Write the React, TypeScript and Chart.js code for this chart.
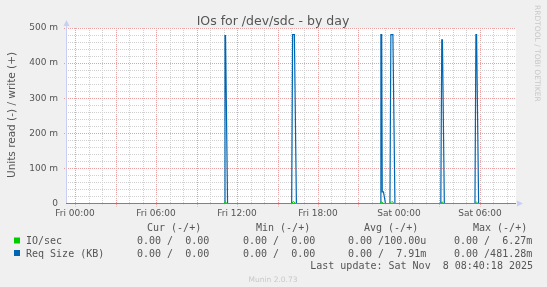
import React, { useEffect, useRef } from 'react';
import { Chart, registerables } from 'chart.js';

Chart.register(...registerables);

const chartTitle = 'IOs for /dev/sdc - by day';
const yAxisTitle = 'Units read (-) / write (+)';
const watermark = 'RRDTOOL / TOBI OETIKER';
const footer = 'Munin 2.0.73';

// hours relative to Fri 00:00
const xMin = -0.67;
const xMax = 32.67;
const xTickHours = [0, 6, 12, 18, 24, 30];
const xTickLabels = ['Fri 00:00', 'Fri 06:00', 'Fri 12:00', 'Fri 18:00', 'Sat 00:00', 'Sat 06:00'];
const yTickValues = [0, 100, 200, 300, 400, 500];
const yTickLabels = ['0', '100 m', '200 m', '300 m', '400 m', '500 m'];

// Req Size (KB), milli-units
const reqHours = [
  -0.67,
  11.04, 11.11, 11.15, 11.3,
  16.05, 16.12, 16.25, 16.4,
  22.6, 22.66, 22.72, 22.76, 22.85, 23.0,
  23.33, 23.4, 23.55, 23.7,
  27.1, 27.17, 27.22, 27.36,
  29.63, 29.7, 29.75, 29.9,
  32.67,
];
const reqValues = [
  0,
  0, 478, 478, 0,
  0, 481, 481, 0,
  0, 481, 481, 33, 33, 0,
  0, 481, 481, 0,
  0, 466, 466, 0,
  0, 481, 481, 0,
  0,
];

// IO/sec, milli-units
const ioHours = [
  -0.67,
  11.04, 11.13, 11.25,
  16.05, 16.18, 16.35,
  22.6, 22.7, 22.85,
  23.33, 23.48, 23.65,
  27.1, 27.2, 27.3,
  29.63, 29.72, 29.85,
  32.67,
];
const ioValues = [
  0,
  0, 5, 0,
  0, 6, 0,
  0, 5, 0,
  0, 6, 0,
  0, 5, 0,
  0, 5, 0,
  0,
];

const legendHeaders = ['Cur (-/+)', 'Min (-/+)', 'Avg (-/+)', 'Max (-/+)'];
const seriesNames = ['IO/sec', 'Req Size (KB)'];
const seriesColors = ['#00cc00', '#0066b3'];
const ioStats = ['0.00 /  0.00', '0.00 /  0.00', '0.00 /100.00u', '0.00 /  6.27m'];
const reqStats = ['0.00 /  0.00', '0.00 /  0.00', '0.00 /  7.91m', '0.00 /481.28m'];
const lastUpdate = 'Last update: Sat Nov  8 08:40:18 2025';

const SANS = '"DejaVu Sans", sans-serif';
const MONO = '"DejaVu Sans Mono", monospace';
const TEXT = '#555555';

const muninPlugin = {
  id: 'munin',
  beforeDraw(chart: any) {
    const { ctx, chartArea: a } = chart;
    ctx.save();
    ctx.fillStyle = '#f0f0f0';
    ctx.fillRect(0, 0, chart.width, chart.height);
    ctx.fillStyle = '#ffffff';
    ctx.fillRect(a.left, a.top, a.right - a.left, a.bottom - a.top);
    ctx.restore();
  },
  beforeDatasetsDraw(chart: any) {
    const { ctx, chartArea: a, scales } = chart;
    const xs = scales.x;
    const ys = scales.y;
    ctx.save();
    ctx.lineWidth = 1;
    ctx.setLineDash([1, 1]);
    for (let h = Math.ceil(xMin); h <= Math.floor(xMax); h++) {
      const major = h % 3 === 0;
      const px = Math.round(xs.getPixelForValue(h)) + 0.5;
      ctx.strokeStyle = major ? '#e8a0a0' : '#d0d0d0';
      ctx.beginPath();
      ctx.moveTo(px, a.top);
      ctx.lineTo(px, a.bottom + (major ? 3 : 1));
      ctx.stroke();
    }
    for (let v = 20; v <= 500; v += 20) {
      const major = v % 100 === 0;
      const py = Math.floor(ys.getPixelForValue(v)) + 0.5;
      ctx.strokeStyle = major ? '#e8a0a0' : '#d0d0d0';
      ctx.beginPath();
      ctx.moveTo(a.left - (major ? 2 : 0), py);
      ctx.lineTo(a.right, py);
      ctx.stroke();
    }
    ctx.restore();
  },
  afterDatasetsDraw(chart: any) {
    const { ctx, chartArea: a } = chart;
    ctx.save();
    ctx.lineWidth = 1;
    ctx.strokeStyle = '#c8cef4';
    ctx.beginPath();
    ctx.moveTo(a.left + 0.5, a.bottom);
    ctx.lineTo(a.left + 0.5, a.top - 4);
    ctx.stroke();
    ctx.fillStyle = '#c8cef4';
    ctx.beginPath();
    ctx.moveTo(a.left - 2.5, a.top - 2);
    ctx.lineTo(a.left + 3.5, a.top - 2);
    ctx.lineTo(a.left + 0.5, a.top - 8);
    ctx.closePath();
    ctx.fill();
    const by = Math.floor(a.bottom) + 0.5;
    ctx.strokeStyle = '#808090';
    ctx.beginPath();
    ctx.moveTo(a.left, by);
    ctx.lineTo(a.right, by);
    ctx.stroke();
    ctx.fillStyle = '#c8cef4';
    ctx.beginPath();
    ctx.moveTo(a.right + 1, by - 3);
    ctx.lineTo(a.right + 1, by + 3);
    ctx.lineTo(a.right + 7, by);
    ctx.closePath();
    ctx.fill();
    ctx.restore();
  },
  afterDraw(chart: any) {
    const { ctx } = chart;
    ctx.save();
    ctx.fillStyle = TEXT;
    ctx.font = `12.5px ${SANS}`;
    ctx.textAlign = 'center';
    ctx.textBaseline = 'alphabetic';
    ctx.fillText(chartTitle, 273, 25);
    ctx.save();
    ctx.translate(15, 115);
    ctx.rotate(-Math.PI / 2);
    ctx.font = `10.5px ${SANS}`;
    ctx.textAlign = 'center';
    ctx.fillText(yAxisTitle, 0, 0);
    ctx.restore();
    ctx.save();
    ctx.translate(535, 5);
    ctx.rotate(Math.PI / 2);
    ctx.font = `7.5px ${SANS}`;
    ctx.fillStyle = '#c8c8c8';
    ctx.textAlign = 'left';
    ctx.fillText(watermark, 0, 0);
    ctx.restore();
    ctx.font = `10px ${MONO}`;
    ctx.textAlign = 'left';
    ctx.fillStyle = TEXT;
    const headerX = [147, 256, 364, 473];
    const statX = [137, 243, 348, 454];
    legendHeaders.forEach((t, i) => ctx.fillText(t, headerX[i], 231));
    const rowsY = [244, 256.5];
    const rows = [ioStats, reqStats];
    seriesNames.forEach((name, r) => {
      ctx.fillStyle = seriesColors[r];
      ctx.fillRect(14, rowsY[r] - 6.5, 6, 6);
      ctx.fillStyle = TEXT;
      ctx.fillText(name, 26, rowsY[r]);
      rows[r].forEach((t, i) => ctx.fillText(t, statX[i], rowsY[r]));
    });
    ctx.textAlign = 'right';
    ctx.fillText(lastUpdate, 533, 269);
    ctx.textAlign = 'center';
    ctx.font = `7.5px ${SANS}`;
    ctx.fillStyle = '#c8c8c8';
    ctx.fillText(footer, 273, 282);
    ctx.restore();
  },
};

export default function App() {
  const ref = useRef<HTMLCanvasElement | null>(null);
  useEffect(() => {
    if (!ref.current) return;
    const chart = new Chart(ref.current, {
      type: 'line',
      data: {
        datasets: [
          {
            label: seriesNames[0],
            data: ioHours.map((h, i) => ({ x: h, y: ioValues[i] })),
            borderColor: seriesColors[0],
            borderWidth: 1,
            pointRadius: 0,
            tension: 0,
            fill: false,
          },
          {
            label: seriesNames[1],
            data: reqHours.map((h, i) => ({ x: h, y: reqValues[i] })),
            borderColor: seriesColors[1],
            borderWidth: 1.2,
            pointRadius: 0,
            tension: 0,
            fill: false,
          },
        ],
      },
      options: {
        animation: false,
        responsive: false,
        devicePixelRatio: 1,
        layout: { padding: { left: 0, right: 31, top: 28, bottom: 0 } },
        plugins: { legend: { display: false }, tooltip: { enabled: false }, title: { display: false } },
        scales: {
          x: {
            type: 'linear',
            min: xMin,
            max: xMax,
            grid: { display: false, drawTicks: false },
            border: { display: false },
            afterBuildTicks: (s: any) => {
              s.ticks = xTickHours.map((v) => ({ value: v }));
            },
            afterFit: (s: any) => {
              s.height = 83.5;
            },
            ticks: {
              autoSkip: false,
              maxRotation: 0,
              padding: 5,
              color: TEXT,
              font: { family: SANS, size: 9 },
              callback: (v: any) => {
                const i = xTickHours.indexOf(Number(v));
                return i >= 0 ? xTickLabels[i] : '';
              },
            },
          },
          y: {
            type: 'linear',
            min: 0,
            max: 500,
            grid: { display: false, drawTicks: false },
            border: { display: false },
            afterBuildTicks: (s: any) => {
              s.ticks = yTickValues.map((v) => ({ value: v }));
            },
            afterFit: (s: any) => {
              s.width = 66;
            },
            ticks: {
              padding: 8,
              color: TEXT,
              font: { family: SANS, size: 9 },
              callback: (v: any) => {
                const i = yTickValues.indexOf(Number(v));
                return i >= 0 ? yTickLabels[i] : '';
              },
            },
          },
        },
      },
      plugins: [muninPlugin],
    });
    return () => chart.destroy();
  }, []);
  return (
    <div style={{ position: 'absolute', left: 0, top: 0, width: 547, height: 287, background: '#f0f0f0' }}>
      <canvas ref={ref} width={547} height={287} style={{ display: 'block', width: 547, height: 287 }} />
    </div>
  );
}
